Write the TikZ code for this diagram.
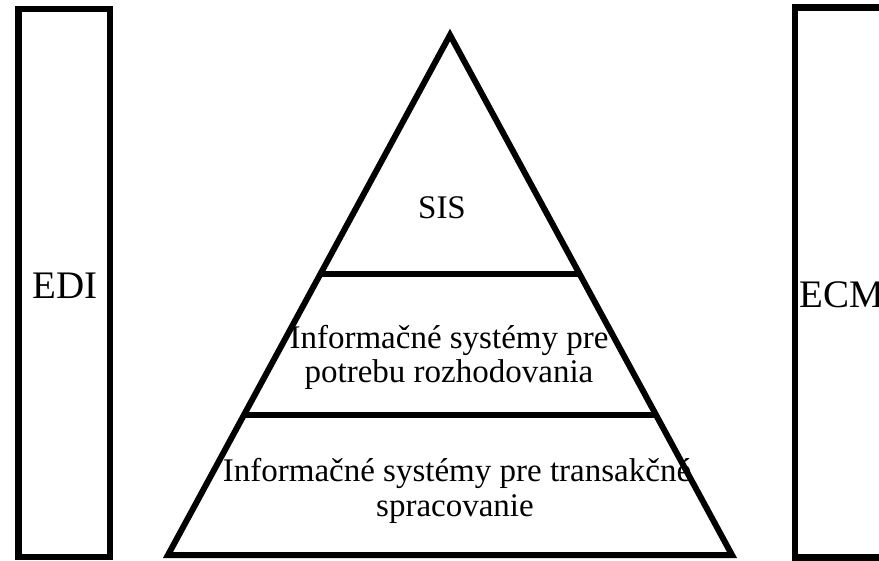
\documentclass[tikz,border=0pt]{standalone}
\usepackage{fontspec}
\setmainfont{Liberation Serif}
\newfontfamily\tnr{Liberation Serif}
\usetikzlibrary{calc}
\tikzset{
  frame/.style={draw=black, line width=6.5pt},
  pyr/.style={draw=black, line width=6pt},
  big/.style={inner sep=0pt, anchor=base, font=\tnr\fontsize{39}{44}\selectfont},
  lbl/.style={inner sep=0pt, anchor=base, font=\tnr\fontsize{33}{36}\selectfont}
}
\begin{document}
\begin{tikzpicture}[x=1pt,y=-1pt]
\path[use as bounding box, clip] (0,0) rectangle (879,561);
\fill[white] (0,0) rectangle (879,561);
% side frames
\draw[frame] (18.25,9.25) rectangle (109.75,556.75);
\draw[frame] (795,7.5) rectangle (930,557.5);
% pyramid
\coordinate (A) at (450,35);
\coordinate (L) at (168,555);
\coordinate (R) at (732,555);
\draw[pyr] (A) -- (L) -- (R) -- cycle;
\coordinate (d1l) at ($(A)!0.4587!(L)$);
\coordinate (d1r) at ($(A)!0.4587!(R)$);
\coordinate (d2l) at ($(A)!0.7308!(L)$);
\coordinate (d2r) at ($(A)!0.7308!(R)$);
\draw[pyr] (d1l) -- (d1r);
\draw[pyr] (d2l) -- (d2r);
% labels
\node[big] (edi) at (65,299) {EDI};
\node[big, anchor=base west] (ecm) at (799,308) {ECM};
\node[lbl] (sis) at (442,219) {SIS};
\node[lbl] (mid1) at (449,349) {Informačné systémy pre};
\node[lbl] (mid2) at (449,383) {potrebu rozhodovania};
\node[lbl] (bot1) at (457,482) {Informačné systémy pre transakčné};
\node[lbl] (bot2) at (455,516) {spracovanie};
\end{tikzpicture}
\end{document}
